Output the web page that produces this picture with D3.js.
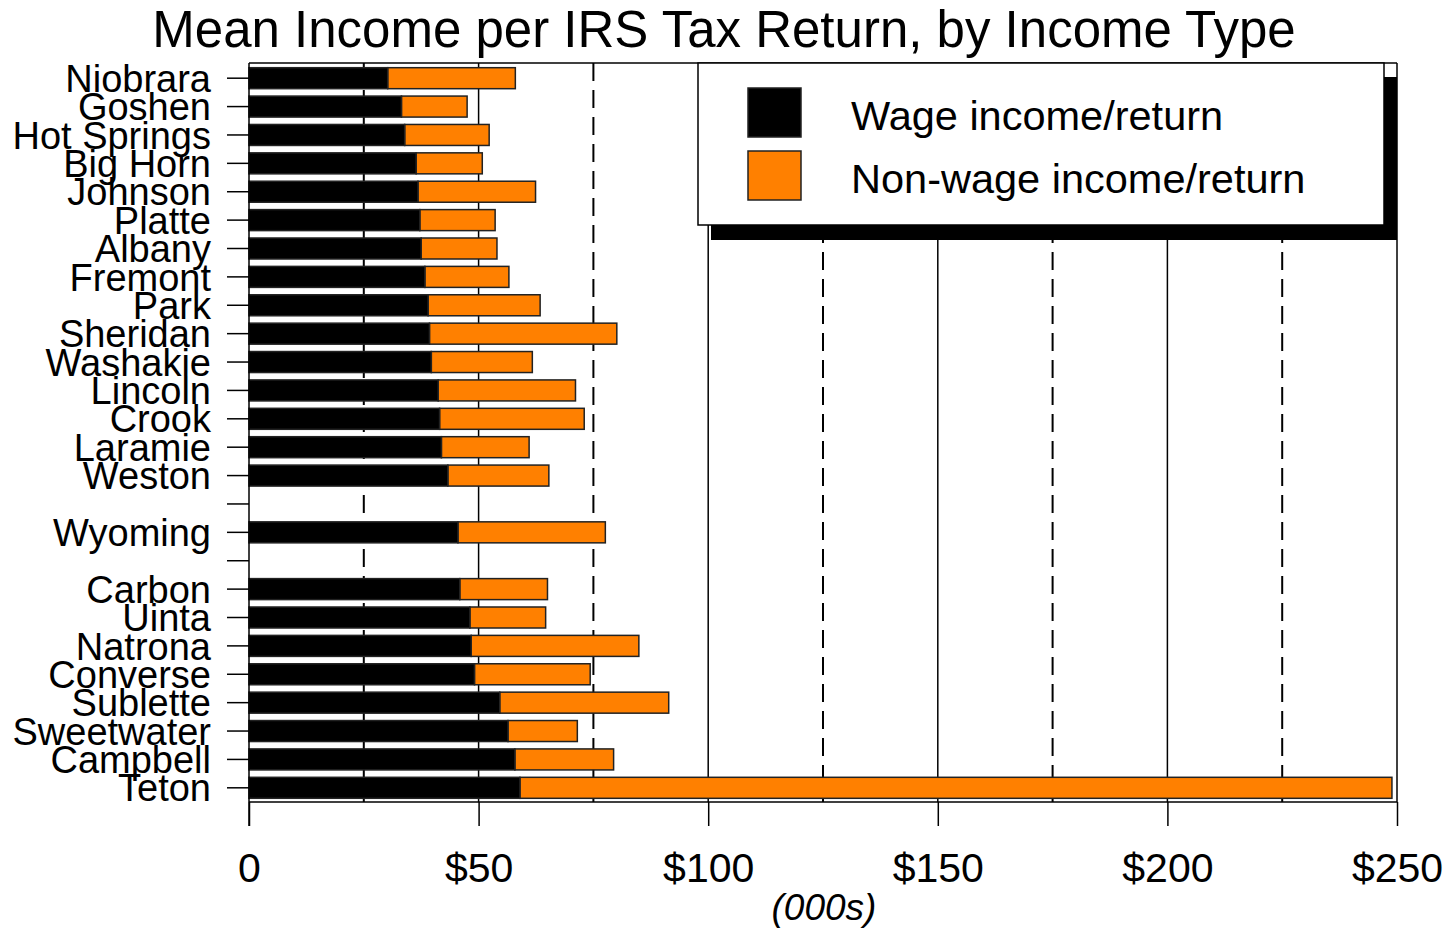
<!DOCTYPE html>
<html><head><meta charset="utf-8">
<script src="https://cdn.jsdelivr.net/npm/d3@7"></script>
<style>
html,body{margin:0;padding:0;background:#fff;}
svg text{font-family:"Liberation Sans",Arial,Helvetica,sans-serif;fill:#000;}
</style></head>
<body>
<svg id="chart" width="1451" height="933"></svg>
<script>
const counties = ["Niobrara","Goshen","Hot Springs","Big Horn","Johnson","Platte","Albany","Fremont","Park","Sheridan","Washakie","Lincoln","Crook","Laramie","Weston","","Wyoming","","Carbon","Uinta","Natrona","Converse","Sublette","Sweetwater","Campbell","Teton"];
const wageIncome = [30.2,33.2,33.9,36.4,36.8,37.2,37.5,38.3,39.0,39.3,39.7,41.2,41.5,41.9,43.3,null,45.5,null,45.9,48.1,48.4,49.1,54.6,56.4,57.9,59.0];
const totalIncome = [58.0,47.5,52.3,50.8,62.4,53.6,54.0,56.6,63.4,80.1,61.7,71.1,73.0,61.0,65.3,null,77.6,null,65.0,64.6,84.9,74.3,91.4,71.5,79.4,248.9];
const xTicks = [0,50,100,150,200,250];
const xMinorTicks = [25,75,125,175,225];
const seriesNames = ["Wage income/return","Non-wage income/return"];
const seriesColors = ["#000000","#FF8000"];

const svg = d3.select("#chart");
const L = 249, R = 1397, T = 64, B = 802;
const keys = counties.map((c,i)=> c === "" ? "gap"+i : c);
const x = d3.scaleLinear().domain([0,250]).range([L,R]);
const y = d3.scaleBand().domain(keys).range([T,B]).paddingInner(0.26).paddingOuter(0.13);

// title
svg.append("text").attr("x",724).attr("y",47).attr("text-anchor","middle")
  .style("font-size","51px").text("Mean Income per IRS Tax Return, by Income Type");

// gridlines
svg.append("g").selectAll("line").data(xMinorTicks).join("line")
  .attr("x1",d=>x(d)).attr("x2",d=>x(d)).attr("y1",T-1).attr("y2",B)
  .attr("stroke","#000").attr("stroke-width",2).attr("stroke-dasharray","18,9");
svg.append("g").selectAll("line").data(xTicks.filter(d=>d>0)).join("line")
  .attr("x1",d=>x(d)).attr("x2",d=>x(d)).attr("y1",T-1).attr("y2",B)
  .attr("stroke","#000").attr("stroke-width",1.5);
// top border
svg.append("line").attr("x1",L).attr("x2",R).attr("y1",T-1).attr("y2",T-1).attr("stroke","#000").attr("stroke-width",1.5);

// bars
const rows = counties.map((c,i)=>({key:keys[i], wage:wageIncome[i], total:totalIncome[i]})).filter(d=>d.wage!==null);
const gb = svg.append("g");
gb.selectAll("rect.nw").data(rows).join("rect").attr("class","nw")
  .attr("x",d=>x(d.wage)).attr("width",d=>x(d.total)-x(d.wage))
  .attr("y",d=>y(d.key)).attr("height",y.bandwidth())
  .attr("fill",seriesColors[1]).attr("stroke","#222").attr("stroke-width",1.5);
gb.selectAll("rect.w").data(rows).join("rect").attr("class","w")
  .attr("x",x(0)).attr("width",d=>x(d.wage)-x(0))
  .attr("y",d=>y(d.key)).attr("height",y.bandwidth())
  .attr("fill",seriesColors[0]).attr("stroke","#222").attr("stroke-width",1.5);

// y axis
const ya = svg.append("g").attr("transform",`translate(${L},0)`)
  .call(d3.axisLeft(y).tickSize(22).tickPadding(16).tickFormat((d,i)=>counties[i]));
ya.select(".domain").remove();
ya.selectAll(".tick line").attr("stroke","#000").attr("stroke-width",1.5);
ya.selectAll("text").style("font-size","38px").attr("dy","0.36em").attr("font-family",null);
svg.append("line").attr("x1",L).attr("x2",L).attr("y1",T-1).attr("y2",826).attr("stroke","#000").attr("stroke-width",1.5);

// x axis
const xa = svg.append("g").attr("transform",`translate(0,${B})`)
  .call(d3.axisBottom(x).tickValues(xTicks).tickSize(24).tickPadding(27).tickFormat(d=> d===0 ? "0" : "$"+d));
xa.select(".domain").attr("stroke","#000").attr("stroke-width",1.5).attr("d",`M${L},0H${R}`);
xa.selectAll(".tick line").attr("stroke","#000").attr("stroke-width",1.5);
xa.selectAll("text").style("font-size","41px").attr("font-family",null);
svg.append("text").attr("x",824).attr("y",920).attr("text-anchor","middle")
  .style("font-size","37px").style("font-style","italic").text("(000s)");

// legend
const lg = svg.append("g");
lg.append("rect").attr("x",711).attr("y",77).attr("width",686).attr("height",163).attr("fill","#000");
lg.append("rect").attr("x",698).attr("y",63).attr("width",686).attr("height",162)
  .attr("fill","#fff").attr("stroke","#000").attr("stroke-width",1.5);
seriesNames.forEach((n,i)=>{
  lg.append("rect").attr("x",748).attr("y",88+i*63).attr("width",53).attr("height",49)
    .attr("fill",seriesColors[i]).attr("stroke","#222").attr("stroke-width",1.5);
  lg.append("text").attr("x",851).attr("y",130+i*63).style("font-size","41.5px").text(n);
});
</script>
</body></html>
